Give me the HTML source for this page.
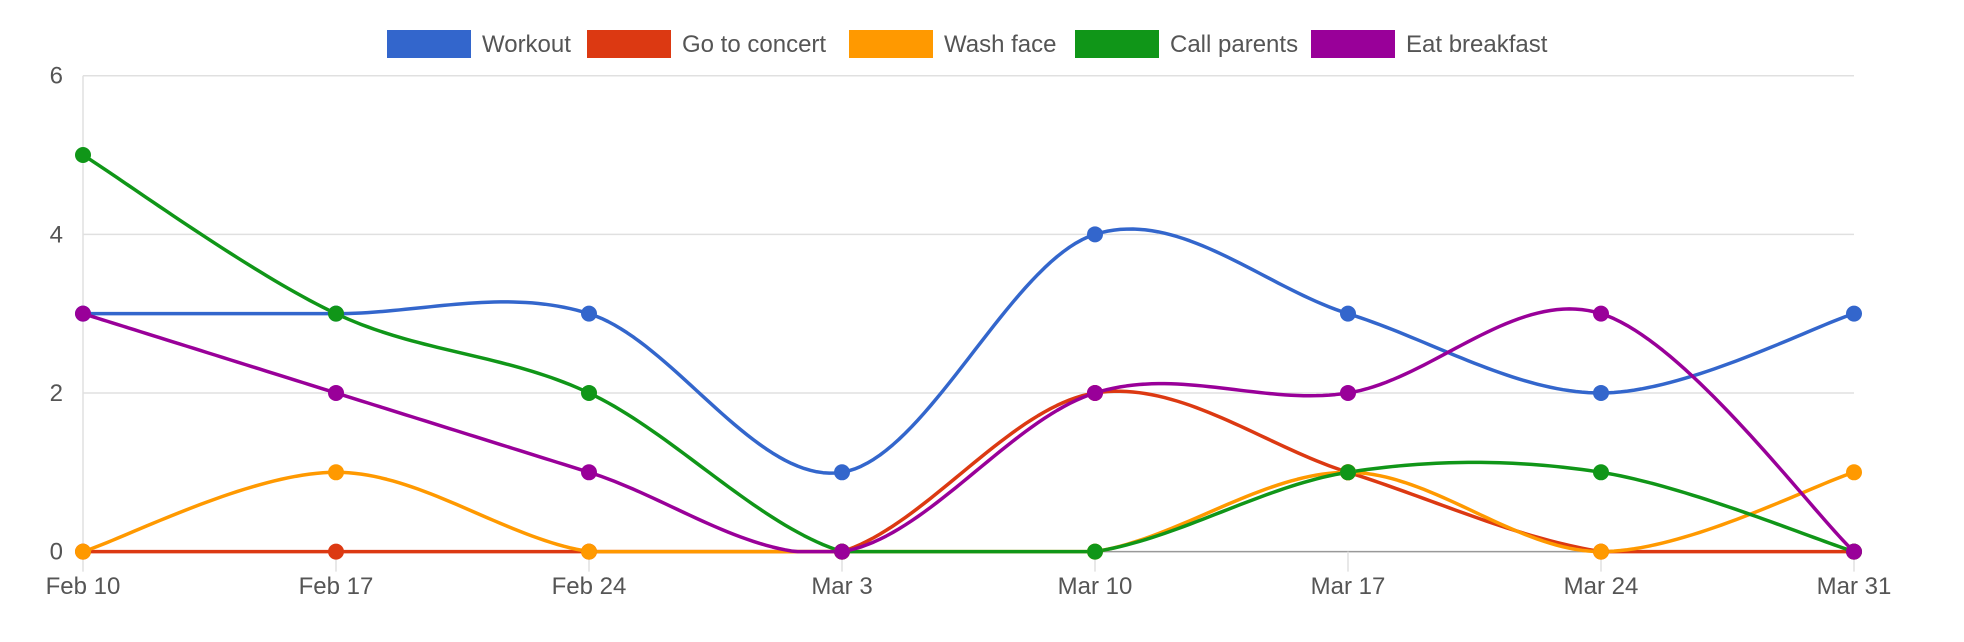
<!DOCTYPE html>
<html><head><meta charset="utf-8"><style>
body{margin:0;background:#fff;}
svg{display:block;font-family:"Liberation Sans",Arial,sans-serif;}
</style></head><body>
<svg id="chart" width="1964" height="642" viewBox="0 0 1964 642" xmlns="http://www.w3.org/2000/svg">
<g id="grid"></g>
<g id="legend"></g>
<g id="series"></g>
<g id="dots"></g>
</svg>
<script>
const categories = ["Feb 10","Feb 17","Feb 24","Mar 3","Mar 10","Mar 17","Mar 24","Mar 31"];
const yTicks = [0,2,4,6];
const seriesNames = ["Workout","Go to concert","Wash face","Call parents","Eat breakfast"];
const workout = [3,3,3,1,4,3,2,3];
const concert = [0,0,0,0,2,1,0,0];
const washFace = [0,1,0,0,0,1,0,1];
const callParents = [5,3,2,0,0,1,1,0];
const eatBreakfast = [3,2,1,0,2,2,3,0];
const seriesValues = [workout, concert, washFace, callParents, eatBreakfast];
const colors = ["#3366cc","#dc3912","#ff9900","#109618","#990099"];
const legendX = [387,587,849,1075,1311];

const NS="http://www.w3.org/2000/svg";
const X0=83,X1=1854,Y0=551.6,Y6=75.7;
const xs=i=>X0+(X1-X0)*i/(categories.length-1);
const ys=v=>Y0+(Y6-Y0)*v/6;
function mk(tag,attrs,parent){const e=document.createElementNS(NS,tag);for(const k in attrs)e.setAttribute(k,attrs[k]);parent.appendChild(e);return e;}
const grid=document.getElementById('grid');
yTicks.forEach(t=>{
  const l=mk('line',{x1:X0,x2:X1,y1:ys(t),y2:ys(t),stroke:t===0?'#999':'#e0e0e0','stroke-width':1.5},grid);
  
  
  const tx=mk('text',{x:63,y:ys(t)+8,'text-anchor':'end','font-size':24,fill:'#555'},grid);
  tx.textContent=t;
  
  
});
const ax=mk('line',{x1:X0,x2:X0,y1:Y6,y2:Y0+20,stroke:'#e0e0e0','stroke-width':1.5},grid);


categories.forEach((c,i)=>{
  if(i>0){const tk=mk('line',{x1:xs(i),x2:xs(i),y1:Y0,y2:Y0+20,stroke:'#e0e0e0','stroke-width':1.5},grid);
  
  }
  const tx=mk('text',{x:xs(i),y:594,'text-anchor':'middle','font-size':24,fill:'#555'},grid);
  tx.textContent=c;
  
  
});
const leg=document.getElementById('legend');
seriesNames.forEach((n,i)=>{
  const g=mk('g',{},leg);
  
  
  mk('rect',{x:legendX[i],y:30,width:84,height:28,fill:colors[i]},g);
  const t=mk('text',{x:legendX[i]+95,y:52,'font-size':24,fill:'#555'},g);
  t.textContent=n;
});
function pathFor(v){
  const p=v.map((d,i)=>[xs(i),ys(d)]);
  const pts=[];
  for(let i=0;i<p.length-1;i++){
    const a=p[i-1]||p[i],b=p[i],c=p[i+1],d=p[i+2]||p[i+1];
    const k=1/6;
    const c1=[b[0]+(c[0]-a[0])*k,b[1]+(c[1]-a[1])*k], c2=[c[0]-(d[0]-b[0])*k,c[1]-(d[1]-b[1])*k];
    for(let s=0;s<=40;s++){
      if(i>0&&s===0)continue;
      const t=s/40,u=1-t;
      const x=u*u*u*b[0]+3*u*u*t*c1[0]+3*u*t*t*c2[0]+t*t*t*c[0];
      let y=u*u*u*b[1]+3*u*u*t*c1[1]+3*u*t*t*c2[1]+t*t*t*c[1];
      y=Math.min(y,Y0);
      pts.push(x.toFixed(2)+','+y.toFixed(2));
    }
  }
  return 'M'+pts.join(' L');
}
const sg=document.getElementById('series'),dg=document.getElementById('dots');
seriesValues.forEach((v,si)=>{
  const p=mk('path',{d:pathFor(v),fill:'none',stroke:colors[si],'stroke-width':3.5,'stroke-linejoin':'round'},sg);
  
  
});
seriesValues.forEach((v,si)=>{
  v.forEach((d,i)=>{
    const c=mk('circle',{cx:xs(i),cy:ys(d),r:8,fill:colors[si]},dg);
    
    
  });
});
</script>
</body></html>
